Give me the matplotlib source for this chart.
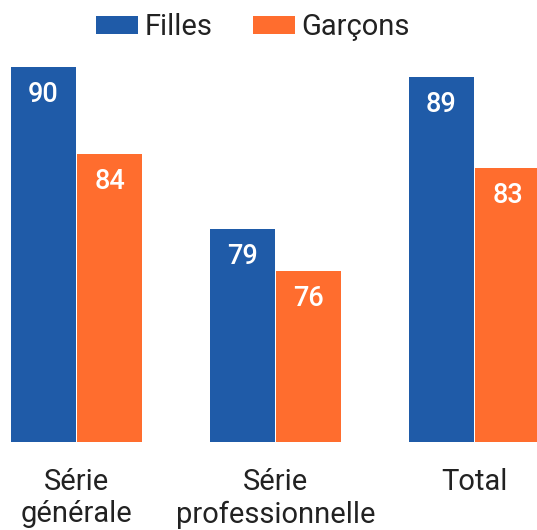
import matplotlib
matplotlib.use("Agg")
import matplotlib.pyplot as plt
import numpy as np

plt.rcParams['font.family'] = ['Roboto', 'DejaVu Sans']

categories = ["Série\ngénérale", "Série\nprofessionnelle", "Total"]
# bar heights (labels are the rounded values)
filles = [90.0, 78.9, 89.3]
garcons = [84.0, 76.0, 83.1]
series_labels = ["Filles", "Garçons"]
colors = ["#1f5ba8", "#ff6d2e"]

W, H = 537, 530
BASE = 442        # baseline pixel row
PX_PER_UNIT = 14.57
Y0 = 64.26

fig = plt.figure(figsize=(W / 100, H / 100), dpi=100)
ax = fig.add_axes([0, (H - BASE) / H, 1, BASE / H])

x = np.arange(len(categories))
width = 0.325
off = 0.1665

ax.set_xlim(-76.5 / 199, (W - 76.5) / 199)
ax.set_ylim(Y0, Y0 + BASE / PX_PER_UNIT)

for vals, sign, col, lab in [(filles, -1, colors[0], series_labels[0]),
                             (garcons, 1, colors[1], series_labels[1])]:
    ax.bar(x + sign * off, vals, width, bottom=0, color=col, label=lab,
           linewidth=0)
    for xi, v in zip(x + sign * off, vals):
        ax.annotate(f"{v:.0f}", (xi, v), xytext=(0, -14), textcoords="offset pixels",
                    ha="center", va="top", color="white", fontsize=19.5,
                    fontweight="medium")

ax.axis("off")

for xi, cat in zip(x, categories):
    ax.annotate(cat, (xi, Y0), xytext=(0, -26), textcoords="offset pixels",
                ha="center", va="top", fontsize=21, color="#222222",
                linespacing=1.2, annotation_clip=False)

fig.legend(loc="center", bbox_to_anchor=(253 / W, 1 - 27 / H), ncol=2,
           frameon=False, prop={"size": 21},
           handlelength=1.45, handleheight=0.56,
           handletextpad=0.21, columnspacing=1.4, borderpad=0,
           labelcolor="#222222")

fig.savefig("out.png", dpi=100)
